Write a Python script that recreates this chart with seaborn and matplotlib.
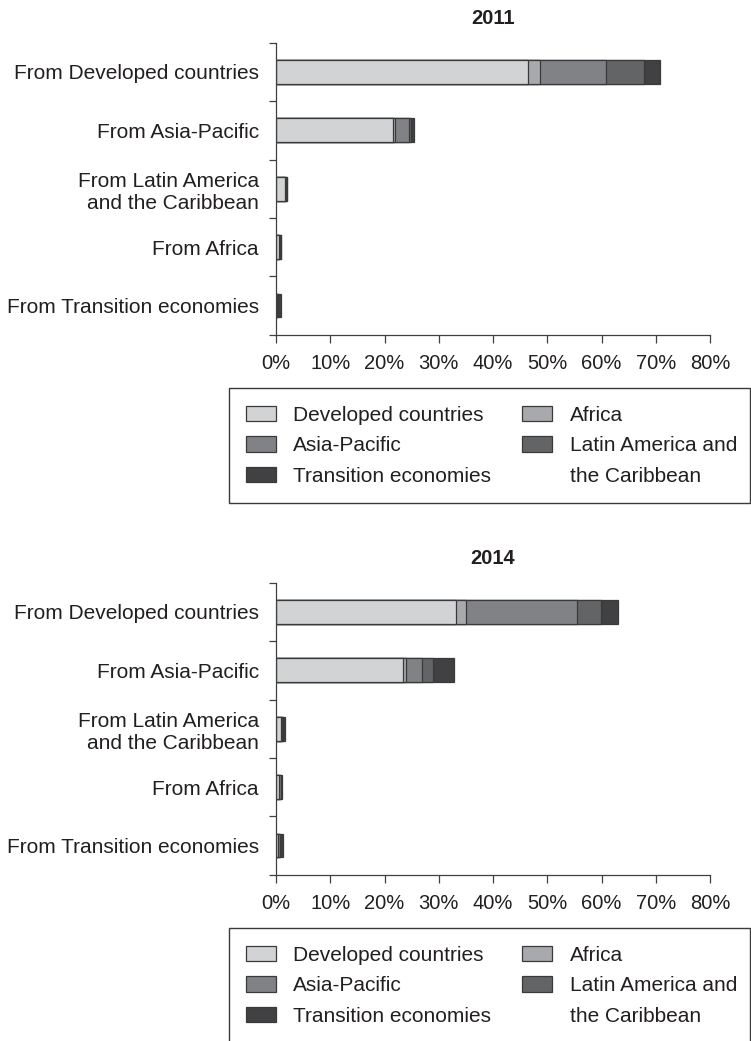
import numpy as np
import pandas as pd
import matplotlib
matplotlib.use("Agg")
import matplotlib.pyplot as plt
import matplotlib.patches as mpatches
from matplotlib.ticker import FixedLocator
import seaborn as sns

# ---------------- data ----------------
origins = [
    "From Developed countries",
    "From Asia-Pacific",
    "From Latin America\nand the Caribbean",
    "From Africa",
    "From Transition economies",
]
destinations = [
    "Developed countries",
    "Africa",
    "Asia-Pacific",
    "Latin America and the Caribbean",
    "Transition economies",
]

# 2011 shares (%) by destination, per origin row
dev_2011 = [46.4, 21.5, 1.6, 0.5, 0.2]
afr_2011 = [2.3, 0.5, 0.1, 0.05, 0.05]
asia_2011 = [12.1, 2.5, 0.2, 0.2, 0.1]
lat_2011 = [7.1, 0.3, 0.1, 0.1, 0.05]
trans_2011 = [2.8, 0.6, 0.1, 0.15, 0.45]

# 2014 shares (%)
dev_2014 = [33.1, 23.5, 1.0, 0.5, 0.4]
afr_2014 = [1.9, 0.4, 0.05, 0.1, 0.05]
asia_2014 = [20.4, 3.1, 0.2, 0.3, 0.3]
lat_2014 = [4.5, 1.9, 0.1, 0.05, 0.05]
trans_2014 = [3.1, 4.0, 0.25, 0.15, 0.5]

x_ticks = [0, 10, 20, 30, 40, 50, 60, 70, 80]
x_tick_labels = ["0%", "10%", "20%", "30%", "40%", "50%", "60%", "70%", "80%"]

legend_labels = ["Developed countries", "Asia-Pacific", "Transition economies",
                 "Africa", "Latin America and", "the Caribbean"]

colors = ["#d1d3d4", "#a7a9ac", "#808285", "#636466", "#414042"]
EDGE = "#3a3a3a"
TXT = "#231f20"

# ---------------- style ----------------
sns.set_style("ticks")
plt.rcParams["font.family"] = ["Liberation Sans", "DejaVu Sans"]
plt.rcParams["text.color"] = TXT
plt.rcParams["axes.edgecolor"] = "#404040"

W, H = 751, 1041
fig = plt.figure(figsize=(W / 100, H / 100), dpi=100)


def fx(px):
    return px / W


def fy(py):
    return 1 - py / H


def draw(ax, series, title):
    cum = np.cumsum(np.array(series, dtype=float), axis=0)
    for i in range(len(series) - 1, -1, -1):
        d = pd.DataFrame({"origin": origins, "value": cum[i]})
        sns.barplot(data=d, x="value", y="origin", order=origins, orient="h",
                    color=colors[i], saturation=1, width=0.41,
                    edgecolor=EDGE, linewidth=0.9, errorbar=None, ax=ax)
    ax.set_xlim(0, 80)
    ax.set_ylim(4.5, -0.5)
    ax.set_xlabel("")
    ax.set_ylabel("")
    ax.set_xticks(x_ticks)
    ax.set_xticklabels(x_tick_labels, fontsize=14.5, color=TXT)
    ax.set_yticks(range(len(origins)))
    ax.set_yticklabels(origins, fontsize=15, color=TXT)
    ax.yaxis.set_minor_locator(FixedLocator(np.arange(-0.5, 5.0, 1.0)))
    ax.tick_params(axis="y", which="major", length=0, pad=12.5)
    ax.tick_params(axis="y", which="minor", length=5, width=0.9, color="#404040", direction="out")
    ax.tick_params(axis="x", which="major", length=5.8, width=0.9, color="#404040",
                   direction="out", pad=8)
    for s in ("top", "right"):
        ax.spines[s].set_visible(False)
    for s in ("left", "bottom"):
        ax.spines[s].set_linewidth(0.9)
    ax.set_title(title, fontweight="bold", fontsize=14.5, pad=13.5, color=TXT)


def add_legend(offset):
    handles = [
        mpatches.Patch(facecolor=colors[0], edgecolor=EDGE, linewidth=0.9),
        mpatches.Patch(facecolor=colors[2], edgecolor=EDGE, linewidth=0.9),
        mpatches.Patch(facecolor=colors[4], edgecolor=EDGE, linewidth=0.9),
        mpatches.Patch(facecolor=colors[1], edgecolor=EDGE, linewidth=0.9),
        mpatches.Patch(facecolor=colors[3], edgecolor=EDGE, linewidth=0.9),
        mpatches.Patch(facecolor="none", edgecolor="none"),
    ]
    fig.legend(handles, legend_labels, loc="upper left",
               bbox_to_anchor=(fx(245.7), fy(406 + offset)),
               bbox_transform=fig.transFigure, ncol=2, frameon=False,
               borderpad=0, borderaxespad=0, handlelength=1.44,
               handleheight=0.75, handletextpad=0.82, columnspacing=1.52,
               labelspacing=0.54, fontsize=15)
    fig.add_artist(mpatches.Rectangle(
        (fx(229), fy(502.7 + offset)), fx(749.5) - fx(229), 115 / H,
        transform=fig.transFigure, fill=False, edgecolor=EDGE, linewidth=1.0))


ax1 = fig.add_axes([fx(276), fy(334.7), fx(710) - fx(276), (334.7 - 42.7) / H])
draw(ax1, [dev_2011, afr_2011, asia_2011, lat_2011, trans_2011], "2011")
add_legend(0)

ax2 = fig.add_axes([fx(276), fy(874.7), fx(710) - fx(276), (334.7 - 42.7) / H])
draw(ax2, [dev_2014, afr_2014, asia_2014, lat_2014, trans_2014], "2014")
add_legend(540)

fig.savefig("out.png", dpi=100)
